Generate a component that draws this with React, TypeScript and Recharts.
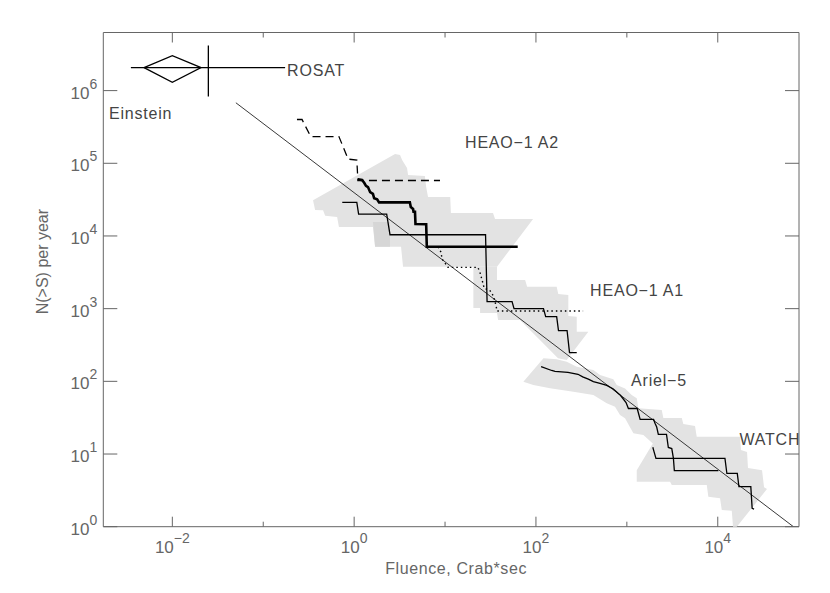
import React from 'react';
import { ScatterChart, Scatter, XAxis, YAxis } from 'recharts';

// log axes, ranges
const X_DOMAIN = [0.00174, 78300];
const Y_DOMAIN = [1, 6.3e6];
const X_TICKS = [0.01, 0.1, 1, 10, 100, 1000, 10000];
const Y_TICKS = [1, 10, 100, 1e3, 1e4, 1e5, 1e6];

// [fluence, N(>S)] pairs
const heaoA2Band: [number, number][] = [
  [0.353, 3.1e4], [2.82, 1.34e5], [3.2, 1.3e5], [3.37, 1.11e5], [3.82, 8.6e4], [3.92, 6.9e4],
  [6.0, 6.7e4], [6.2, 4.7e4], [6.5, 3.44e4], [11.4, 3.44e4], [11.6, 2.07e4], [33.7, 2.07e4],
  [35.5, 1.71e4], [93, 1.71e4], [37.3, 3.78e3], [3.45, 3.78e3], [3.28, 7.1e3], [1.7, 7.1e3],
  [1.61, 1.33e4], [0.68, 1.33e4], [0.65, 1.83e4], [0.48, 1.89e4], [0.455, 2.25e4], [0.372, 2.28e4],
];
const heaoA2Overlap: [number, number][] = [
  [1.61, 1.56e4], [2.48, 1.56e4], [2.48, 7.1e3], [1.7, 7.1e3],
];
const heaoA1Band: [number, number][] = [
  [20.5, 3.78e3], [20.5, 1.02e3], [24.3, 1.02e3], [24.3, 873], [37.3, 873], [38.3, 699],
  [66.8, 699], [175, 208], [218, 197], [377, 482], [281, 482], [281, 776], [227, 793],
  [227, 1.54e3], [176, 1.59e3], [169, 2.0e3], [80, 2.0e3], [76, 2.48e3], [37.3, 2.48e3], [37.3, 3.78e3],
];
const arielWatchBand: [number, number][] = [
  [72.7, 99], [121, 208], [169, 201], [218, 186], [281, 159], [428, 143], [507, 122], [710, 107],
  [774, 89], [955, 80], [1130, 65], [1285, 58.5], [1340, 42.6], [2420, 40.4], [2520, 31.3],
  [4020, 31.3], [4180, 25.9], [5620, 24.3], [5870, 17.3], [17600, 17.3], [18000, 11.4],
  [21000, 10.7], [21500, 6.4], [30700, 6.0], [32300, 3.5], [34800, 3.3], [14850, 0.87],
  [14260, 1.66], [11070, 1.7], [10600, 2.46], [7880, 2.59], [7570, 3.75], [3120, 3.75],
  [2990, 4.16], [1285, 4.16], [1285, 6.0], [1930, 14.0], [1520, 18.3], [1180, 19.3], [955, 31.0],
  [841, 34.4], [741, 44.8], [601, 49.9], [428, 64.9], [258, 72.1], [143, 80.2], [93.6, 89],
];

const rulerLine: [number, number][] = [[0.05, 6.8e5], [6.8e4, 1]];
const einsteinDiamond: [number, number][] = [
  [0.00488, 2.07e6], [0.01, 3.03e6], [0.0207, 2.07e6], [0.01, 1.3e6], [0.00488, 2.07e6],
];
const rosatXBar: [number, number][] = [[0.0035, 2.07e6], [0.174, 2.07e6]];
const rosatYBar: [number, number][] = [[0.0249, 4.16e6], [0.0249, 8.3e5]];

const a2Limit: [number, number][] = [
  [0.235, 4.0e5], [0.267, 4.0e5], [0.333, 2.33e5], [0.68, 2.33e5], [0.86, 1.14e5],
  [1.07, 1.11e5], [1.1, 5.8e4], [8.8, 5.8e4],
];
const a2Counts: [number, number][] = [
  [1.1, 6.0e4], [1.22, 5.9e4], [1.29, 5.4e4], [1.35, 4.9e4], [1.42, 4.7e4], [1.5, 4.0e4],
  [1.61, 3.8e4], [1.66, 3.3e4], [1.79, 3.2e4], [1.88, 2.9e4], [4.1, 2.9e4], [4.2, 2.5e4],
  [4.45, 2.35e4], [4.5, 2.15e4], [4.67, 2.15e4], [4.73, 1.46e4], [6.2, 1.45e4], [6.3, 7.1e3],
  [63, 7.1e3],
];
const thinCounts: [number, number][] = [
  [0.74, 2.9e4], [1.07, 2.9e4], [1.12, 2.0e4], [2.28, 2.0e4], [2.48, 1.04e4], [27.9, 1.04e4],
  [29, 1.25e3], [54.6, 1.25e3], [57.4, 1.0e3], [121, 1.0e3], [128, 776], [169, 776],
  [177, 500], [220, 500], [234, 248], [281, 248],
];
const a1Counts: [number, number][] = [
  [8.4, 7.1e3], [9.0, 6.0e3], [9.3, 4.8e3], [10.8, 3.7e3], [23, 3.7e3], [24.3, 3.1e3],
  [25.5, 2.5e3], [27, 1.9e3], [31, 1.8e3], [34, 1.5e3], [36.4, 1.1e3], [37.3, 930], [330, 930],
];
const arielCounts: [number, number][] = [
  [114, 159], [149, 141], [162, 137], [225, 133], [290, 125], [327, 115], [377, 107], [428, 99],
  [507, 94], [601, 88], [710, 78.5], [841, 65], [901, 58.5], [980, 51], [1040, 42.3],
  [1300, 42.3], [1400, 29.9], [1970, 29.9], [2040, 26.5], [2130, 23.5], [2220, 18.6],
  [2730, 18.6], [2860, 12.3], [3120, 11.9], [3250, 8.8], [3330, 5.9], [10160, 5.9],
];
const watchCounts: [number, number][] = [
  [1930, 12.4], [1990, 10.8], [2090, 8.7], [12000, 8.7], [12600, 5.4], [16400, 5.4],
  [17100, 3.55], [23100, 3.55], [23900, 1.79], [25100, 1.75],
];

const labelText = ['ROSAT', 'Einstein', 'HEAO\u22121 A2', 'HEAO\u22121 A1', 'Ariel\u22125', 'WATCH'];
const labelX = [0.183, 0.00201, 16.6, 394, 1112, 17300];
const labelY = [1.59e6, 4.08e5, 1.6e5, 1470, 85, 13.3];

const AXIS = '#666';
const TEXT = '#666';
const BAND = '#e3e3e3';
const BAND_DARK = '#d6d6d6';
const FONT = '"Liberation Sans", Arial, sans-serif';

const pts = (arr: [number, number][]) => arr.map(([x, y]) => ({ x, y }));
const labels = labelText.map((text, i) => ({ x: labelX[i], y: labelY[i], text }));

const Empty = () => <g />;

const Pow = ({ x, y, exp, anchor }: any) => (
  <text x={x} y={y} textAnchor={anchor} fill={TEXT} fontFamily={FONT} fontSize={17}>
    10<tspan dy={-10} fontSize={14}>{exp < 0 ? `\u2212${-exp}` : exp}</tspan>
  </text>
);

const decade = (v: number) => Math.round(Math.log10(v));

const BottomTick = ({ x, y, payload }: any) => {
  const exp = decade(payload.value);
  const major = exp % 2 === 0;
  return (
    <g>
      <line x1={x} x2={x} y1={y} y2={y - (major ? 10 : 5)} stroke={AXIS} />
      {major && <Pow x={x} y={y + 26} exp={exp} anchor="middle" />}
    </g>
  );
};

const TopTick = ({ x, y, payload }: any) => {
  const major = decade(payload.value) % 2 === 0;
  return <line x1={x} x2={x} y1={y} y2={y + (major ? 10 : 5)} stroke={AXIS} />;
};

const LeftTick = ({ x, y, payload }: any) => (
  <g>
    <line x1={x} x2={x + 14} y1={y} y2={y} stroke={AXIS} />
    <Pow x={x - 6} y={y + 8} exp={decade(payload.value)} anchor="end" />
  </g>
);

const RightTick = ({ x, y }: any) => <line x1={x} x2={x - 14} y1={y} y2={y} stroke={AXIS} />;

const LabelShape = (props: any) => (
  <text x={props.cx} y={props.cy} fill="#444" fontFamily={FONT} fontSize={16} letterSpacing={0.8}>
    {props.payload.text}
  </text>
);

const XTitle = ({ viewBox }: any) => (
  <text x={viewBox.x + viewBox.width / 2 + 5} y={viewBox.y + 47} textAnchor="middle"
    fill={TEXT} fontFamily={FONT} fontSize={16} letterSpacing={0.6}>
    Fluence, Crab*sec
  </text>
);

const YTitle = ({ viewBox }: any) => {
  const x = viewBox.x + 5;
  const y = viewBox.y + viewBox.height / 2 - 18;
  return (
    <text x={x} y={y} transform={`rotate(-90, ${x}, ${y})`} textAnchor="middle"
      fill={TEXT} fontFamily={FONT} fontSize={16}>
      N(&gt;S) per year
    </text>
  );
};

const band = (data: [number, number][], fill: string) => (
  <Scatter xAxisId="b" yAxisId="l" data={pts(data)} shape={Empty}
    line={{ fill, stroke: 'none' }} isAnimationActive={false} />
);

const curve = (data: [number, number][], width: number, dash?: string, color = '#000') => (
  <Scatter xAxisId="b" yAxisId="l" data={pts(data)} shape={Empty}
    line={{ stroke: color, strokeWidth: width, strokeDasharray: dash, fill: 'none' }}
    isAnimationActive={false} />
);

export default function App() {
  return (
    <ScatterChart width={822} height={577} margin={{ top: 14.5, right: 21, bottom: 18.3, left: 35.3 }}>
      <XAxis xAxisId="b" dataKey="x" type="number" scale="log" domain={X_DOMAIN} allowDataOverflow
        ticks={X_TICKS} interval={0} tick={BottomTick} tickLine={false} tickSize={0} tickMargin={0}
        axisLine={{ stroke: AXIS }} height={40} label={XTitle} />
      <XAxis xAxisId="t" dataKey="x" type="number" scale="log" domain={X_DOMAIN} allowDataOverflow
        orientation="top" ticks={X_TICKS} interval={0} tick={TopTick} tickLine={false} tickSize={0}
        tickMargin={0} axisLine={{ stroke: AXIS }} height={10} />
      <YAxis yAxisId="l" dataKey="y" type="number" scale="log" domain={Y_DOMAIN} allowDataOverflow
        ticks={Y_TICKS} interval={0} tick={LeftTick} tickLine={false} tickSize={0} tickMargin={0}
        axisLine={{ stroke: AXIS }} width={60} label={YTitle} />
      <YAxis yAxisId="r" dataKey="y" type="number" scale="log" domain={Y_DOMAIN} allowDataOverflow
        orientation="right" ticks={Y_TICKS} interval={0} tick={RightTick} tickLine={false}
        tickSize={0} tickMargin={0} axisLine={{ stroke: AXIS }} width={10} />

      {band(heaoA2Band, BAND)}
      {band(heaoA1Band, BAND)}
      {band(arielWatchBand, BAND)}
      {band(heaoA2Overlap, BAND_DARK)}

      {curve(rulerLine, 0.9, undefined, '#222')}
      {curve(einsteinDiamond, 1.3)}
      {curve(rosatXBar, 1.3)}
      {curve(rosatYBar, 1.3)}
      {curve(a2Limit, 1.3, '8 5')}
      {curve(a2Counts, 2.6)}
      {curve(thinCounts, 1.3)}
      {curve(a1Counts, 1.4, '1.5 3')}
      {curve(arielCounts, 1.3)}
      {curve(watchCounts, 1.3)}

      <Scatter xAxisId="b" yAxisId="l" data={labels} shape={LabelShape} isAnimationActive={false} />
    </ScatterChart>
  );
}
